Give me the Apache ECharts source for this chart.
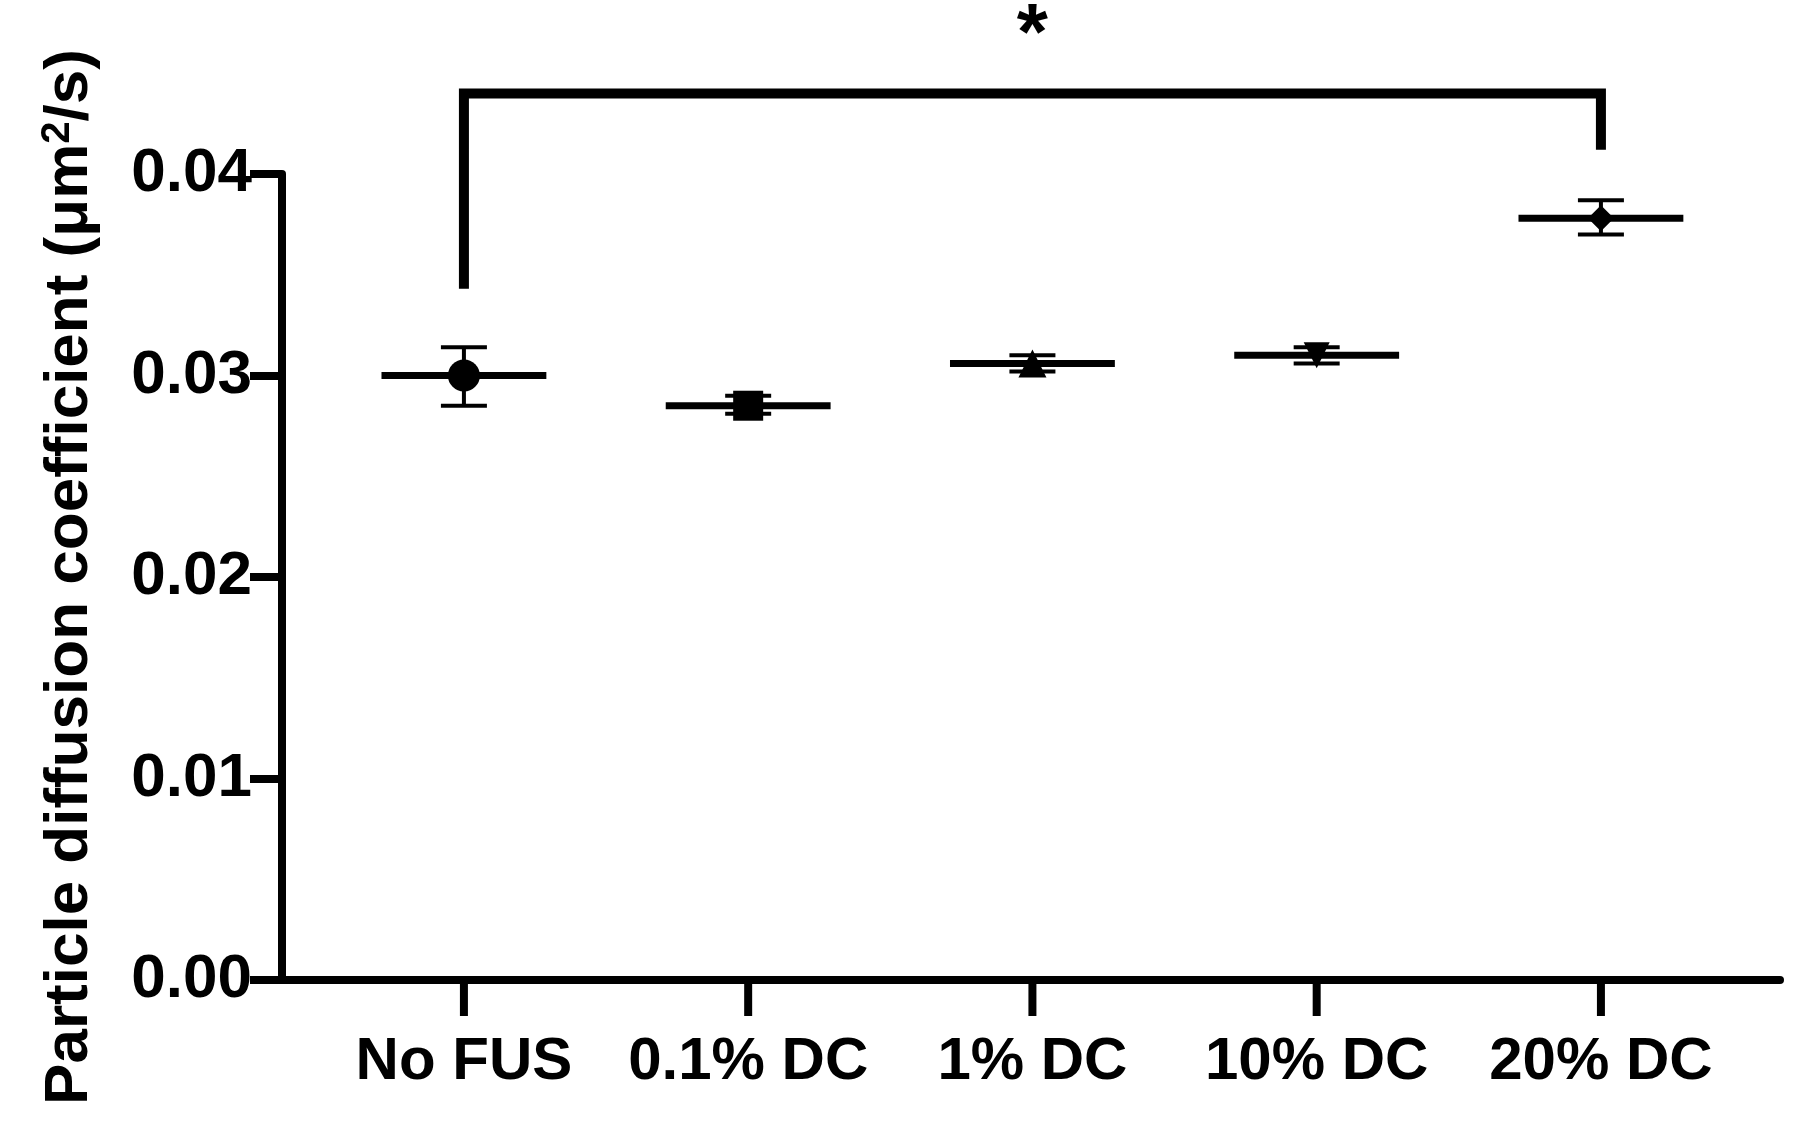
<!DOCTYPE html>
<html>
<head>
<meta charset="utf-8">
<script src="https://cdn.jsdelivr.net/npm/echarts@6/dist/echarts.min.js"></script>
<style>html,body{margin:0;background:#fff}#chart{width:1810px;height:1148px}</style>
</head>
<body>
<div id="chart"></div>
<script>
const categories = ['No FUS', '0.1% DC', '1% DC', '10% DC', '20% DC'];
const means = [0.0300, 0.0285, 0.0306, 0.0310, 0.0378];
const errLow = [0.0285, 0.0281, 0.0302, 0.0306, 0.0370];
const errHigh = [0.0314, 0.0290, 0.0310, 0.0314, 0.0387];
const symbols = ['circle', 'rect', 'triangle', 'path://M0,0 L10,0 L5,9 Z', 'diamond'];
const symbolSizes = [32, 30, 28, 26, 26];
const bracket = {from: 0, to: 4, leftY: 0.0343, rightY: 0.0412, topY: 0.0440, starY: 0.0468, label: '*'};

const font = 'Liberation Sans, Arial, sans-serif';
const chart = echarts.init(document.getElementById('chart'));

const option = {
    backgroundColor: '#fff',
    animation: false,
    grid: {left: 282, right: 30, top: 174, bottom: 168},
    xAxis: {
        type: 'value', min: -0.64, max: 4.63,
        axisLine: {onZero: false, lineStyle: {color: '#000', width: 8}},
        axisTick: {show: false}, axisLabel: {show: false}, splitLine: {show: false}
    },
    yAxis: {
        type: 'value', min: 0, max: 0.04, interval: 0.01,
        name: '{a|Particle diffusion coefficient (μm}{s|2}{a|/s)}',
        nameLocation: 'middle', nameGap: 180,
        nameTextStyle: {
            rich: {
                a: {fontFamily: font, fontWeight: 'bold', fontSize: 62, color: '#000'},
                s: {fontFamily: font, fontWeight: 'bold', fontSize: 40, color: '#000', verticalAlign: 'top', padding: [0, 0, 24, 0]}
            }
        },
        axisLine: {show: true, onZero: false, lineStyle: {color: '#000', width: 8}},
        axisTick: {show: true, length: 32, lineStyle: {color: '#000', width: 8}},
        axisLabel: {fontFamily: font, fontWeight: 'bold', fontSize: 62, color: '#000', margin: 30,
            formatter: v => v.toFixed(2)},
        splitLine: {show: false}
    },
    series: [
        {
            // category ticks and labels
            type: 'custom', silent: true, clip: false,
            data: categories.map((c, i) => [i, 0]),
            renderItem: function (params, api) {
                const p = api.coord([api.value(0), 0]);
                return {type: 'group', children: [
                    {type: 'line', shape: {x1: p[0], y1: p[1], x2: p[0], y2: p[1] + 36},
                        style: {stroke: '#000', lineWidth: 8}},
                    {type: 'text', x: p[0], y: p[1] + 52,
                        style: {text: categories[params.dataIndex], fill: '#000', fontFamily: font,
                            fontWeight: 'bold', fontSize: 60, align: 'center', verticalAlign: 'top'}}
                ]};
            }
        },
        {
            // error bars and mean lines
            type: 'custom', clip: false,
            data: means.map((m, i) => [i, m, errLow[i], errHigh[i]]),
            renderItem: function (params, api) {
                const x = api.value(0);
                const pm0 = api.coord([x - 0.29, api.value(1)]);
                const pm1 = api.coord([x + 0.29, api.value(1)]);
                const lo = api.coord([x, api.value(2)]);
                const hi = api.coord([x, api.value(3)]);
                const cw = 23;
                const st = {stroke: '#000', lineWidth: 4};
                return {type: 'group', children: [
                    {type: 'line', shape: {x1: lo[0], y1: lo[1], x2: hi[0], y2: hi[1]}, style: st},
                    {type: 'line', shape: {x1: lo[0] - cw, y1: lo[1], x2: lo[0] + cw, y2: lo[1]}, style: st},
                    {type: 'line', shape: {x1: hi[0] - cw, y1: hi[1], x2: hi[0] + cw, y2: hi[1]}, style: st},
                    {type: 'line', shape: {x1: pm0[0], y1: pm0[1], x2: pm1[0], y2: pm1[1]},
                        style: {stroke: '#000', lineWidth: 7}}
                ]};
            }
        },
        {
            type: 'scatter', z: 5,
            data: means.map((m, i) => ({value: [i, m], symbol: symbols[i], symbolSize: symbolSizes[i]})),
            itemStyle: {color: '#000', opacity: 1}
        },
        {
            // significance bracket
            type: 'custom', clip: false, silent: true,
            data: [[bracket.from, bracket.to]],
            renderItem: function (params, api) {
                const a = api.coord([bracket.from, bracket.leftY]);
                const b = api.coord([bracket.from, bracket.topY]);
                const c = api.coord([bracket.to, bracket.topY]);
                const d = api.coord([bracket.to, bracket.rightY]);
                const s = api.coord([(bracket.from + bracket.to) / 2, bracket.starY]);
                return {type: 'group', children: [
                    {type: 'polyline', shape: {points: [a, b, c, d]},
                        style: {stroke: '#000', lineWidth: 10, fill: null}},
                    {type: 'text', x: s[0], y: s[1],
                        style: {text: bracket.label, fill: '#000', fontFamily: font, fontWeight: 'bold',
                            fontSize: 80, align: 'center', verticalAlign: 'middle'}}
                ]};
            }
        }
    ]
};
chart.setOption(option);
</script>
</body>
</html>
